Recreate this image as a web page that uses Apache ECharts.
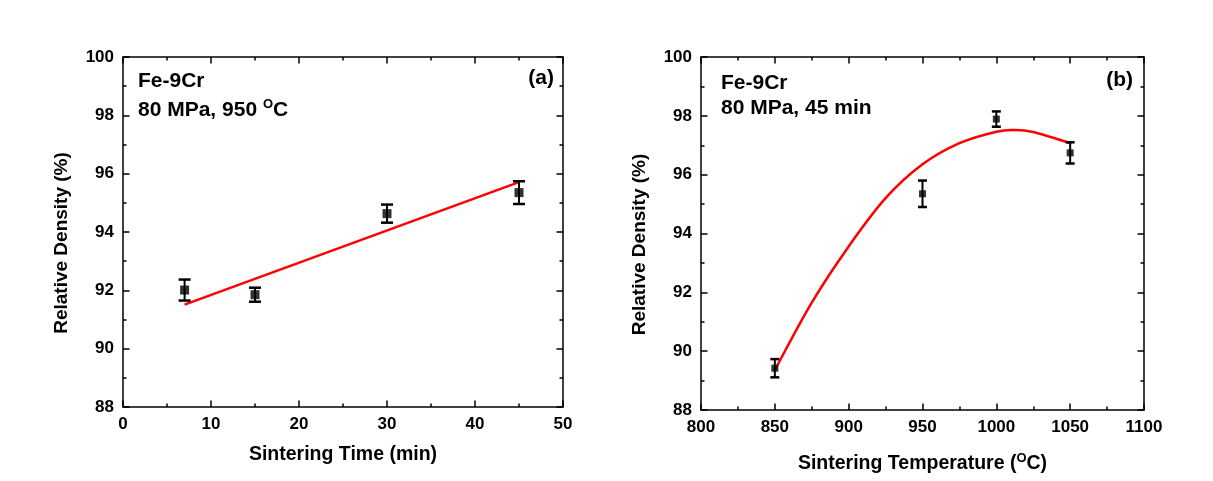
<!DOCTYPE html>
<html>
<head>
<meta charset="utf-8">
<script src="https://cdn.jsdelivr.net/npm/echarts@6/dist/echarts.min.js"></script>
<style>
html,body{margin:0;padding:0;background:#fff;}
#chart{width:1213px;height:481px;}
</style>
</head>
<body>
<div id="chart"></div>
<script>
// ---- Data ----
// Panel (a): density vs sintering time
const timeX = [7, 15, 30, 45];
const timeY = [92.01, 91.85, 94.63, 95.35];
const timeErr = [0.36, 0.24, 0.31, 0.39];
const timeFitX = [7, 45];
const timeFitY = [91.51, 95.71];
// Panel (b): density vs sintering temperature
const tempX = [850, 950, 1000, 1050];
const tempY = [89.42, 95.35, 97.89, 96.74];
const tempErr = [0.31, 0.45, 0.26, 0.36];
const tempFitX = [850, 875, 900, 925, 950, 975, 1000, 1012, 1025, 1050];
const tempFitY = [89.36, 91.65, 93.56, 95.20, 96.35, 97.07, 97.46, 97.52, 97.45, 97.07];
// Axis ranges / ticks
const timeAxis = {min: 0, max: 50, interval: 10};
const tempAxis = {min: 800, max: 1100, interval: 50};
const densAxis = {min: 88, max: 100, interval: 2};
const yTitle = 'Relative Density (%)';
const xTitleA = 'Sintering Time (min)';
const xTitleB = 'Sintering Temperature ({sup|O}C)';
const noteA1 = 'Fe-9Cr', noteA2 = '80 MPa, 950 {sup|O}C', tagA = '(a)';
const noteB1 = 'Fe-9Cr', noteB2 = '80 MPa, 45 min', tagB = '(b)';

const FONT = '"Liberation Sans", Arial, sans-serif';
const supRich = {sup: {fontSize: 13, fontWeight: 'bold', fontFamily: FONT, color: '#000', padding: [0, 0, 10, 0]}};

function zip(a, b, c) { return a.map((v, i) => c ? [v, b[i], c[i]] : [v, b[i]]); }

const tickStyle = {show: true, inside: true, length: 6.5, lineStyle: {color: '#000', width: 1.5}};
const minorStyle = {show: true, splitNumber: 2, length: 3.5, lineStyle: {color: '#000', width: 1.5}};
const lineStyle = {show: true, onZero: false, lineStyle: {color: '#000', width: 1.5}};
const labelStyle = (show) => ({show: show, color: '#000', fontSize: 17, fontWeight: 'bold', fontFamily: FONT, margin: 9,
  formatter: (v) => String(v)});

function xAxisDef(grid, range, name, pos, gap) {
  const main = pos === 'bottom';
  return Object.assign({
    type: 'value', gridIndex: grid, position: pos,
    axisLine: lineStyle, axisTick: tickStyle, minorTick: minorStyle,
    splitLine: {show: false}, minorSplitLine: {show: false},
    axisLabel: labelStyle(main),
    name: main ? name : '', nameLocation: 'middle', nameGap: gap,
    nameTextStyle: {color: '#000', fontSize: 19.5, fontWeight: 'bold', fontFamily: FONT, rich: supRich}
  }, range);
}
function yAxisDef(grid, pos) {
  const main = pos === 'left';
  return Object.assign({
    type: 'value', gridIndex: grid, position: pos,
    axisLine: lineStyle, axisTick: tickStyle, minorTick: minorStyle,
    splitLine: {show: false}, minorSplitLine: {show: false},
    axisLabel: labelStyle(main),
    name: main ? yTitle : '', nameLocation: 'middle', nameGap: 52, nameRotate: 90,
    nameTextStyle: {color: '#000', fontSize: 19, fontWeight: 'bold', fontFamily: FONT, padding: [0, 22, 0, 0]}
  }, densAxis);
}

function errRender(capW, lw) {
  return function (params, api) {
    const x = api.value(0), y = api.value(1), e = api.value(2);
    const t = api.coord([x, y + e]);
    const b = api.coord([x, y - e]);
    const st = {stroke: '#000', lineWidth: lw};
    return {type: 'group', children: [
      {type: 'line', shape: {x1: t[0], y1: t[1], x2: b[0], y2: b[1]}, style: st},
      {type: 'line', shape: {x1: t[0] - capW / 2, y1: t[1], x2: t[0] + capW / 2, y2: t[1]}, style: {stroke: '#000', lineWidth: 2.5}},
      {type: 'line', shape: {x1: b[0] - capW / 2, y1: b[1], x2: b[0] + capW / 2, y2: b[1]}, style: {stroke: '#000', lineWidth: 2.5}}
    ]};
  };
}

// Smooth curve through the read points (Catmull-Rom -> cubic Bezier), positioned via the axes' scales
function splineRender(xs, ys) {
  return function (params, api) {
    if (params.dataIndex !== 0) return null;
    const p = xs.map((x, i) => api.coord([x, ys[i]]));
    let d = 'M' + p[0][0] + ',' + p[0][1];
    for (let i = 0; i < p.length - 1; i++) {
      const p0 = p[i - 1] || p[i], p1 = p[i], p2 = p[i + 1], p3 = p[i + 2] || p[i + 1];
      const c1 = [p1[0] + (p2[0] - p0[0]) / 6, p1[1] + (p2[1] - p0[1]) / 6];
      const c2 = [p2[0] - (p3[0] - p1[0]) / 6, p2[1] - (p3[1] - p1[1]) / 6];
      d += ' C' + c1[0] + ',' + c1[1] + ' ' + c2[0] + ',' + c2[1] + ' ' + p2[0] + ',' + p2[1];
    }
    return {type: 'path', shape: {pathData: d}, style: {stroke: '#ff0000', lineWidth: 2.5, fill: 'none'}};
  };
}

function noteText(x, y, txt, align) {
  return {type: 'text', x: x, y: y, style: {
    text: txt, fill: '#000', fontSize: 21, fontWeight: 'bold', fontFamily: FONT,
    align: align || 'left', verticalAlign: 'middle', rich: {sup: {fontSize: 13, fontWeight: 'bold', fontFamily: FONT, fill: '#000', padding: [0, 0, 11, 0]}}
  }};
}

const option = {
  backgroundColor: '#ffffff',
  animation: false,
  grid: [
    {left: 123, top: 57, width: 440, height: 350},
    {left: 701, top: 57, width: 443, height: 353}
  ],
  xAxis: [
    xAxisDef(0, timeAxis, xTitleA, 'bottom', 38),
    xAxisDef(0, timeAxis, '', 'top', 0),
    xAxisDef(1, tempAxis, xTitleB, 'bottom', 42),
    xAxisDef(1, tempAxis, '', 'top', 0)
  ],
  yAxis: [
    yAxisDef(0, 'left'), yAxisDef(0, 'right'),
    yAxisDef(1, 'left'), yAxisDef(1, 'right')
  ],
  series: [
    {type: 'line', xAxisIndex: 0, yAxisIndex: 0, data: zip(timeFitX, timeFitY), showSymbol: false,
      lineStyle: {color: '#ff0000', width: 2.5}, z: 2},
    {type: 'custom', xAxisIndex: 0, yAxisIndex: 0, data: zip(timeX, timeY, timeErr), renderItem: errRender(12, 2), z: 3},
    {type: 'scatter', xAxisIndex: 0, yAxisIndex: 0, data: zip(timeX, timeY), symbol: 'rect', symbolSize: 9,
      itemStyle: {color: '#000'}, z: 4},
    {type: 'custom', xAxisIndex: 2, yAxisIndex: 2, data: zip(tempFitX, tempFitY),
      renderItem: splineRender(tempFitX, tempFitY), z: 2},
    {type: 'custom', xAxisIndex: 2, yAxisIndex: 2, data: zip(tempX, tempY, tempErr), renderItem: errRender(9, 2), z: 3},
    {type: 'scatter', xAxisIndex: 2, yAxisIndex: 2, data: zip(tempX, tempY), symbol: 'rect', symbolSize: 7,
      itemStyle: {color: '#000'}, z: 4}
  ],
  graphic: [
    noteText(138, 81, noteA1),
    noteText(138, 110, noteA2),
    noteText(554, 78, tagA, 'right'),
    noteText(721, 83, noteB1),
    noteText(721, 108, noteB2),
    noteText(1133, 80, tagB, 'right')
  ]
};

const chart = echarts.init(document.getElementById('chart'), null, {renderer: 'canvas'});
chart.setOption(option);
</script>
</body>
</html>
